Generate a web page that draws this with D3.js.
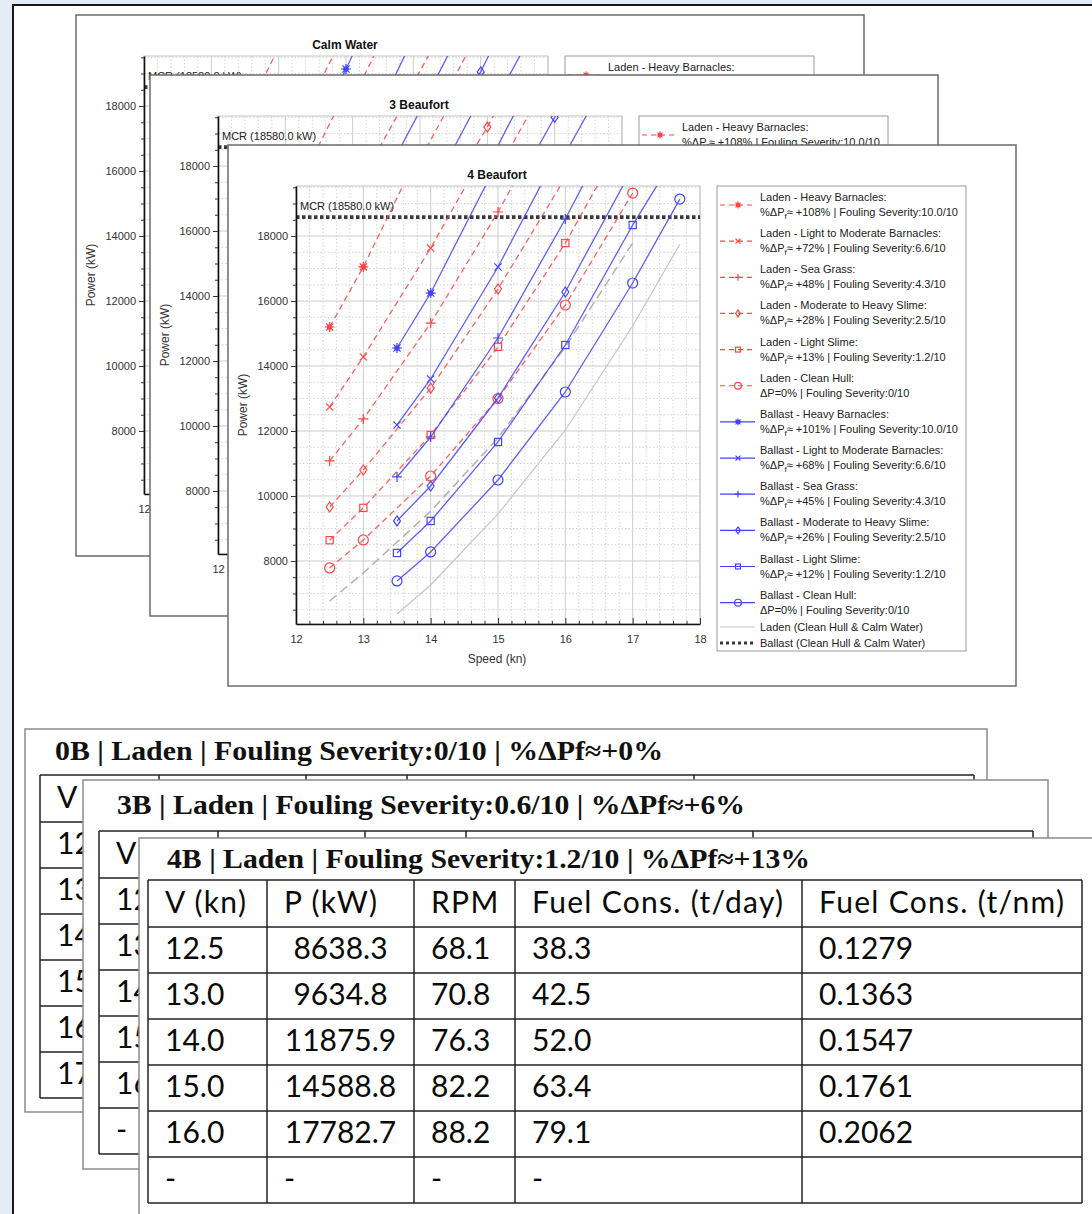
<!DOCTYPE html>
<html>
<head>
<meta charset="utf-8">
<script src="https://cdn.jsdelivr.net/npm/d3@7"></script>
<style>
body { margin: 0; background: #fff; }
svg { display: block; }
</style>
</head>
<body>
<div id="chart"></div>
<script>
// ---- chart data ----
const ladenSpeeds = [12.5, 13, 14, 15, 16, 17];
const ballastSpeeds = [13.5, 14, 15, 16, 17, 17.7];
const foulingNames = ["Heavy Barnacles", "Light to Moderate Barnacles", "Sea Grass",
                      "Moderate to Heavy Slime", "Light Slime", "Clean Hull"];
const markerTypes = ["asterisk", "cross", "plus", "diamond", "square", "circle"];
const severities = ["10.0/10", "6.6/10", "4.3/10", "2.5/10", "1.2/10", "0/10"];
const ladenPct = ["+108%", "+72%", "+48%", "+28%", "+13%"];
const ballastPct = ["+101%", "+68%", "+45%", "+26%", "+12%"];
const panelTitles = ["Calm Water", "3 Beaufort", "4 Beaufort"];

// power (kW) per fouling type, rows follow foulingNames
const calmLaden = [
  [13500, 15600, 19800, null, null, null],
  [11000, 12300, 16300, 20300, null, null],
  [9600, 10600, 13100, 17800, 22000, null],
  [8400, 9400, 11600, 14600, 18700, 22500],
  [7600, 8500, 10500, 13200, 16500, 20400],
  [6769, 7631, 9530, 11785, 14585, 17785]
];
const calmBallast = [
  [13000, 14900, 19140, 23500, null, null],
  [11000, 12400, 15800, 20100, null, null],
  [9600, 10800, 13700, 17500, 21500, null],
  [8500, 9600, 12100, 15300, 19050, 22000],
  [7700, 8600, 10900, 13800, 17300, 20000],
  [6369, 7262, 9446, 12031, 15231, 17750]
];
const bft3Laden = [
  [14800, 16600, 20700, null, null, null],
  [12300, 13800, 17100, 20800, null, null],
  [10700, 11900, 14800, 18200, 22000, null],
  [9300, 10400, 12900, 15800, 19200, 23000],
  [8300, 9300, 11500, 14100, 17300, 21000],
  [7500, 8350, 10250, 12600, 15400, 18300]
];
const bft3Ballast = [
  [14100, 15800, 19700, null, null, null],
  [11800, 13200, 16600, 20500, null, null],
  [10200, 11400, 14400, 18000, 22000, null],
  [8900, 9950, 12600, 15800, 19500, 22300],
  [7950, 8900, 11300, 14200, 17800, 20400],
  [7150, 8000, 10150, 12800, 16100, 18300]
];
const bft4Laden = [
  [15200, 17050, 21300, null, null, null],
  [12740, 14280, 17630, 21300, null, null],
  [11080, 12370, 15320, 18740, 22500, null],
  [9660, 10800, 13320, 16370, 19800, 23500],
  [8638.3, 9634.8, 11875.9, 14588.8, 17782.7, 21500],
  [7785, 8646, 10615, 13000, 15877, 19323]
];
const bft4Ballast = [
  [14554, 16246, 20300, null, null, null],
  [12185, 13600, 17046, 21000, null, null],
  [10585, 11815, 14862, 18523, 22500, null],
  [9231, 10308, 13015, 16277, 20100, null],
  [8246, 9231, 11662, 14646, 18338, 20700],
  [7385, 8277, 10492, 13200, 16554, 19138]
];
// clean hull & calm water reference curves
const ladenCalmRef = [6769, 7631, 9530, 11785, 14585, 17785];
const ballastCalmRef = [6369, 7262, 9446, 12031, 15231, 17750];
const mcrPower = 18580;
const xDomain = [12, 18];
const yDomain = [6060, 19540];
const xTicks = [12, 13, 14, 15, 16, 17, 18];
const yTicks = [8000, 10000, 12000, 14000, 16000, 18000];

// ---- table data ----
const tableTitles = [
  "0B | Laden | Fouling Severity:0/10 | %ΔPf≈+0%",
  "3B | Laden | Fouling Severity:0.6/10 | %ΔPf≈+6%",
  "4B | Laden | Fouling Severity:1.2/10 | %ΔPf≈+13%"
];
const tableHeaders = ["V (kn)", "P (kW)", "RPM", "Fuel Cons. (t/day)", "Fuel Cons. (t/nm)"];
const t0Speeds = ["12.5", "13.0", "14.0", "15.0", "16.0", "17.0"];
const t3Speeds = ["12.5", "13.0", "14.0", "15.0", "16.0", "-"];
const t4Speeds = ["12.5", "13.0", "14.0", "15.0", "16.0", "-"];
const t4Power = ["8638.3", "9634.8", "11875.9", "14588.8", "17782.7", "-"];
const t4Rpm = ["68.1", "70.8", "76.3", "82.2", "88.2", "-"];
const t4FuelDay = ["38.3", "42.5", "52.0", "63.4", "79.1", "-"];
const t4FuelNm = ["0.1279", "0.1363", "0.1547", "0.1761", "0.2062", ""];

// ---- drawing ----
const red = "#ff4545", blue = "#4343ff";
const svg = d3.select("#chart").append("svg")
  .attr("width", 1092).attr("height", 1214)
  .style("font-family", "'Liberation Sans', Arial, sans-serif");
const defs = svg.append("defs");

// slide background + white frame
svg.append("rect").attr("width", 1092).attr("height", 1214).attr("fill", "#e4edf7");
svg.append("rect").attr("x", 13).attr("y", 5).attr("width", 1100).attr("height", 1300)
  .attr("fill", "#fff").attr("stroke", "#1a1a1a").attr("stroke-width", 2);

function drawMarker(g, type, cx, cy, color, s) {
  const m = g.append("g").attr("transform", `translate(${cx},${cy})`)
    .attr("stroke", color).attr("fill", "none").attr("stroke-width", 1.2);
  const d = s * 0.72;
  if (type === "asterisk") {
    m.append("path").attr("d", `M${-s},0H${s}M0,${-s}V${s}M${-d},${-d}L${d},${d}M${-d},${d}L${d},${-d}`);
    m.append("circle").attr("r", s * 0.45).attr("fill", color);
  } else if (type === "cross") {
    m.append("path").attr("d", `M${-d},${-d}L${d},${d}M${-d},${d}L${d},${-d}`);
  } else if (type === "plus") {
    m.append("path").attr("d", `M${-s},0H${s}M0,${-s}V${s}`);
  } else if (type === "diamond") {
    m.append("path").attr("d", `M0,${-s}L${s * 0.7},0L0,${s}L${-s * 0.7},0Z`);
  } else if (type === "square") {
    m.append("rect").attr("x", -d).attr("y", -d).attr("width", 2 * d).attr("height", 2 * d);
  } else {
    m.append("circle").attr("r", s);
  }
}

function drawPanel(title, ladenPower, ballastPower, dx, dy, idx) {
  const g = svg.append("g").attr("transform", `translate(${dx},${dy})`);
  g.append("rect").attr("width", 788).attr("height", 541)
    .attr("fill", "#fff").attr("stroke", "#6b6b6b").attr("stroke-width", 1.5);
  g.append("text").attr("x", 269).attr("y", 34).attr("text-anchor", "middle")
    .attr("font-weight", "bold").attr("font-size", 12).attr("fill", "#111").text(title);

  const plot = g.append("g").attr("transform", "translate(68,41)");
  const x = d3.scaleLinear().domain(xDomain).range([0, 404]);
  const y = d3.scaleLinear().domain(yDomain).range([438, 0]);

  const minorX = x.ticks(30).filter(t => Math.abs(t - Math.round(t)) > 1e-6);
  const minorY = d3.range(6500, yDomain[1], 500).filter(t => t % 2000 !== 0);

  // grid
  plot.append("g").selectAll("line").data(minorX).join("line")
    .attr("x1", d => x(d)).attr("x2", d => x(d)).attr("y1", 0).attr("y2", 438)
    .attr("stroke", "#d4d4d4").attr("stroke-dasharray", "1.5,2");
  plot.append("g").selectAll("line").data(minorY).join("line")
    .attr("x1", 0).attr("x2", 404).attr("y1", d => y(d)).attr("y2", d => y(d))
    .attr("stroke", "#d4d4d4").attr("stroke-dasharray", "1.5,2");
  plot.append("g").selectAll("line").data(xTicks).join("line")
    .attr("x1", d => x(d)).attr("x2", d => x(d)).attr("y1", 0).attr("y2", 438)
    .attr("stroke", "#cdcdcd");
  plot.append("g").selectAll("line").data(yTicks).join("line")
    .attr("x1", 0).attr("x2", 404).attr("y1", d => y(d)).attr("y2", d => y(d))
    .attr("stroke", "#cdcdcd");
  plot.append("rect").attr("width", 404).attr("height", 438)
    .attr("fill", "none").attr("stroke", "#c4c4c4");

  defs.append("clipPath").attr("id", "clip" + idx)
    .append("rect").attr("width", 404).attr("height", 438);
  const area = plot.append("g").attr("clip-path", `url(#clip${idx})`);

  const line = d3.line().defined(d => d[1] != null).x(d => x(d[0])).y(d => y(d[1]));

  // calm water references
  area.append("path").datum(ladenSpeeds.map((s, j) => [s, ladenCalmRef[j]]))
    .attr("d", line).attr("fill", "none").attr("stroke", "#b0b0b0")
    .attr("stroke-width", 1.5).attr("stroke-dasharray", "9,5");
  area.append("path").datum(ballastSpeeds.map((s, j) => [s, ballastCalmRef[j]]))
    .attr("d", line).attr("fill", "none").attr("stroke", "#c6c6c6").attr("stroke-width", 1.2);

  // MCR
  area.append("line").attr("x1", 0).attr("x2", 404)
    .attr("y1", y(mcrPower)).attr("y2", y(mcrPower))
    .attr("stroke", "#3a3a3a").attr("stroke-width", 3.8).attr("stroke-dasharray", "3.5,2.5");
  plot.append("text").attr("x", 4).attr("y", y(mcrPower) - 7)
    .attr("font-size", 11).attr("fill", "#222").text(`MCR (${mcrPower.toFixed(1)} kW)`);

  ladenPower.forEach((vals, i) => {
    const pts = ladenSpeeds.map((s, j) => [s, vals[j]]);
    area.append("path").datum(pts).attr("d", line).attr("fill", "none")
      .attr("stroke", red).attr("stroke-width", 1.3).attr("stroke-dasharray", "6,4").attr("opacity", 0.85);
    pts.filter(d => d[1] != null).forEach(d =>
      drawMarker(area, markerTypes[i], x(d[0]), y(d[1]), red, 5));
  });
  ballastPower.forEach((vals, i) => {
    const pts = ballastSpeeds.map((s, j) => [s, vals[j]]);
    area.append("path").datum(pts).attr("d", line).attr("fill", "none")
      .attr("stroke", blue).attr("stroke-width", 1.3).attr("opacity", 0.85);
    pts.filter(d => d[1] != null).forEach(d =>
      drawMarker(area, markerTypes[i], x(d[0]), y(d[1]), blue, 5));
  });

  // axes
  const xAxis = plot.append("g").attr("transform", "translate(0,438)")
    .call(d3.axisBottom(x).tickValues(xTicks).tickSizeInner(-6).tickSizeOuter(0).tickPadding(11).tickFormat(d3.format("d")));
  plot.append("g").attr("transform", "translate(0,438)")
    .call(d3.axisBottom(x).tickValues(minorX).tickSizeInner(-3).tickSizeOuter(0).tickFormat(""))
    .select(".domain").remove();
  const yAxis = plot.append("g")
    .call(d3.axisLeft(y).tickValues(yTicks).tickSizeInner(5).tickSizeOuter(0).tickPadding(3).tickFormat(d3.format("d")));
  plot.append("g")
    .call(d3.axisLeft(y).tickValues(minorY).tickSizeInner(3).tickSizeOuter(0).tickFormat(""))
    .select(".domain").remove();
  plot.selectAll(".domain").attr("stroke", "#111").attr("stroke-width", 1.6);
  plot.selectAll(".tick line").attr("stroke", "#333");
  [xAxis, yAxis].forEach(a => a.selectAll("text")
    .attr("font-size", 11).attr("fill", "#333").attr("font-family", "'Liberation Sans', Arial, sans-serif"));

  g.append("text").attr("transform", "translate(19,260) rotate(-90)").attr("text-anchor", "middle")
    .attr("font-size", 12).attr("fill", "#333").text("Power (kW)");
  g.append("text").attr("x", 269).attr("y", 518).attr("text-anchor", "middle")
    .attr("font-size", 12).attr("fill", "#333").text("Speed (kn)");

  // legend
  const lg = g.append("g").attr("transform", "translate(489,41)");
  lg.append("rect").attr("width", 249).attr("height", 465)
    .attr("fill", "#fff").attr("stroke", "#9a9a9a");
  const entries = [];
  ["Laden", "Ballast"].forEach((cond, c) => {
    foulingNames.forEach((name, i) => entries.push({
      cond, name, i, color: c === 0 ? red : blue, dashed: c === 0,
      pct: i < 5 ? (c === 0 ? ladenPct[i] : ballastPct[i]) : null
    }));
  });
  entries.forEach((e, k) => {
    const cy = 11 + k * 36.15;
    const row = lg.append("g");
    row.append("line").attr("x1", 3).attr("x2", 38).attr("y1", cy + 8).attr("y2", cy + 8)
      .attr("stroke", e.color).attr("stroke-width", 1.2)
      .attr("stroke-dasharray", e.dashed ? "5,4" : null);
    drawMarker(row, markerTypes[e.i], 21, cy + 8, e.color, 3.4);
    row.append("text").attr("x", 43).attr("y", cy + 4).attr("font-size", 11).attr("fill", "#222")
      .text(`${e.cond} - ${e.name}:`);
    const t2 = row.append("text").attr("x", 43).attr("y", cy + 19).attr("font-size", 11).attr("fill", "#222");
    if (e.pct) {
      t2.append("tspan").text("%ΔP");
      t2.append("tspan").attr("dy", 3).attr("font-size", 8).text("f");
      t2.append("tspan").attr("dy", -3).text(`≈ ${e.pct} | Fouling Severity:${severities[e.i]}`);
    } else {
      t2.text(`ΔP=0% | Fouling Severity:${severities[e.i]}`);
    }
  });
  const refRows = [
    {label: "Laden (Clean Hull & Calm Water)", stroke: "#c6c6c6", w: 1.2, dash: null},
    {label: "Ballast (Clean Hull & Calm Water)", stroke: "#3a3a3a", w: 3, dash: "3,3"}
  ];
  refRows.forEach((r, k) => {
    const cy = 441 + k * 16;
    lg.append("line").attr("x1", 3).attr("x2", 38).attr("y1", cy).attr("y2", cy)
      .attr("stroke", r.stroke).attr("stroke-width", r.w).attr("stroke-dasharray", r.dash);
    lg.append("text").attr("x", 43).attr("y", cy + 4).attr("font-size", 11).attr("fill", "#222").text(r.label);
  });
}

drawPanel(panelTitles[0], calmLaden, calmBallast, 76, 15, 0);
drawPanel(panelTitles[1], bft3Laden, bft3Ballast, 150, 75, 1);
drawPanel(panelTitles[2], bft4Laden, bft4Ballast, 228, 145, 2);

// ---- tables ----
const colWidths = [119, 147, 101, 287, 280];
function drawTable(title, titleLen, columns, panel, tx, ty) {
  const g = svg.append("g");
  g.append("rect").attr("x", panel[0]).attr("y", panel[1]).attr("width", panel[2]).attr("height", panel[3])
    .attr("fill", "#fff").attr("stroke", "#8c8c8c").attr("stroke-width", 1.5);
  g.append("text").attr("x", panel[4]).attr("y", panel[5])
    .attr("font-family", "'Liberation Serif', 'DejaVu Serif', serif").attr("font-weight", "bold")
    .attr("font-size", 27).attr("fill", "#111")
    .attr("textLength", titleLen).attr("lengthAdjust", "spacingAndGlyphs").text(title);

  const nRows = columns[0].length;
  const colX = d3.cumsum([0].concat(colWidths)).map(v => tx + v);
  const rowY = [ty, ty + 47].concat(d3.range(1, nRows + 1).map(r => ty + 47 + r * 46));
  const tg = g.append("g").attr("font-family", "Lato, 'Open Sans', sans-serif").attr("font-size", 30).attr("fill", "#0a0a0a");
  tg.selectAll(".hl").data(rowY).join("line")
    .attr("x1", colX[0]).attr("x2", colX[5]).attr("y1", d => d).attr("y2", d => d)
    .attr("stroke", "#222").attr("stroke-width", 1.5);
  tg.selectAll(".vl").data(colX).join("line")
    .attr("x1", d => d).attr("x2", d => d).attr("y1", rowY[0]).attr("y2", rowY[rowY.length - 1])
    .attr("stroke", "#222").attr("stroke-width", 1.5);
  tableHeaders.forEach((h, c) => {
    tg.append("text").attr("x", colX[c] + 17).attr("y", ty + 33)
      .attr("letter-spacing", 1.3).text(h);
  });
  columns.forEach((col, c) => {
    col.forEach((v, r) => {
      const centred = c === 1 && v !== "-";
      tg.append("text")
        .attr("x", centred ? (colX[1] + colX[2]) / 2 : colX[c] + 17)
        .attr("text-anchor", centred ? "middle" : "start")
        .attr("y", rowY[r + 1] + 32).text(v);
    });
  });
}

drawTable(tableTitles[0], 608, [t0Speeds], [25, 729, 962, 383, 55, 760], 40, 775);
drawTable(tableTitles[1], 628, [t3Speeds], [83, 780, 965, 389, 117, 814], 99, 831);
drawTable(tableTitles[2], 643, [t4Speeds, t4Power, t4Rpm, t4FuelDay, t4FuelNm],
          [139, 838, 1000, 420, 167, 868], 148, 880);
</script>
</body>
</html>
